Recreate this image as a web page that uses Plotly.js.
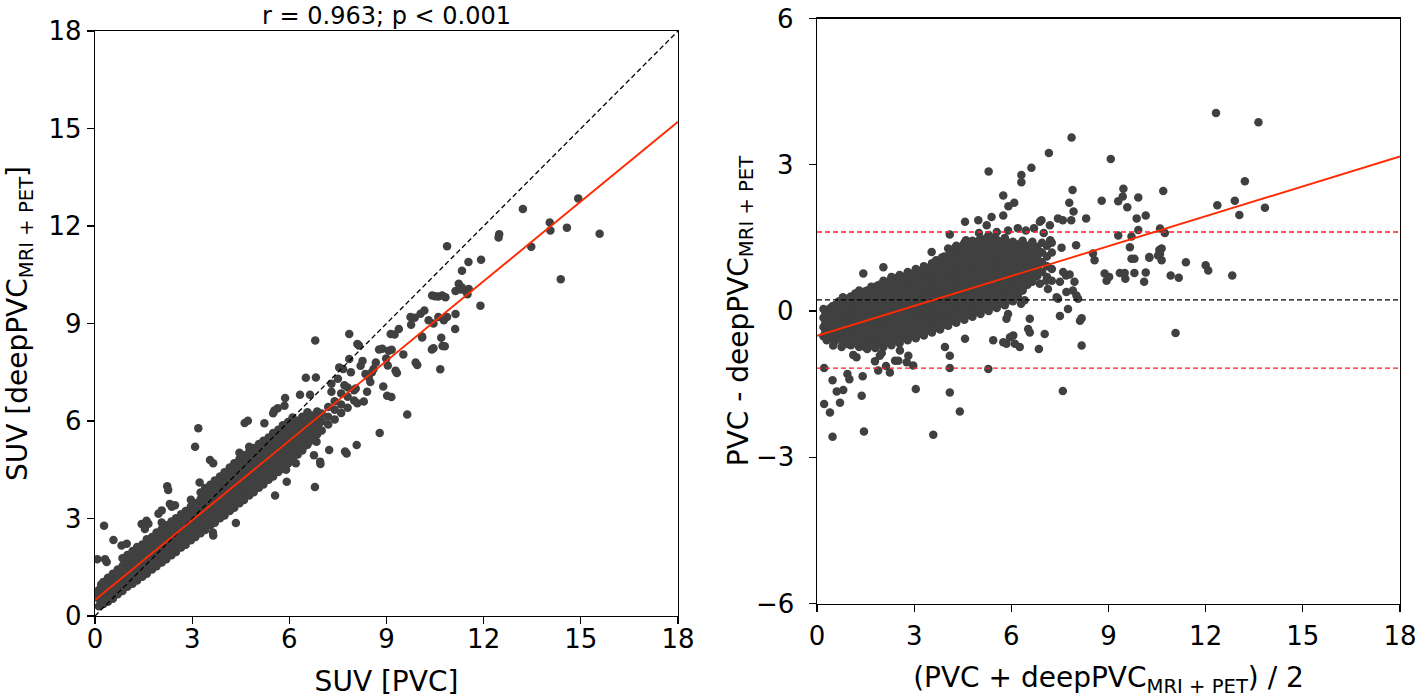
<!DOCTYPE html>
<html><head><meta charset="utf-8">
<script src="https://cdn.plot.ly/plotly-3.0.1.min.js"></script>
<style>html,body{margin:0;padding:0;background:#fff}#chart{width:1415px;height:698px}</style>
</head><body><div id="chart"></div>
<script>
// ---------- Left panel: SUV [PVC] vs SUV [deepPVC MRI+PET] ----------
// dense band, read column by column (x value, list of y values)
const corrColX = [0.12,0.26,0.4,0.55,0.7,0.85,1.0,1.16,1.3,1.46,1.6,1.76,1.9,2.06,2.2,2.36,2.5,2.66,2.8,2.96,3.1,3.26,3.4,3.56,3.7,3.86,4.0,4.16,4.3,4.46,4.6,4.76,4.9,5.06,5.2,5.36,5.5,5.66,5.8,5.96,6.1,6.26,6.4,6.56,6.7,6.86,7.0,7.2,7.4,7.6,7.8,8.0];
const corrColY = [
 [0.3,0.52,0.8],[0.37,0.6,0.84,1.05],[0.44,0.7,0.93,1.18],[0.53,0.79,1.03,1.3],[0.67,0.9,1.16,1.43],
 [0.77,1.03,1.27,1.54,1.78],[0.9,1.11,1.39,1.63,1.88],[0.99,1.24,1.47,1.73,2.0],[1.09,1.35,1.61,1.85,2.12],
 [1.21,1.44,1.71,1.96,2.2],[1.3,1.57,1.81,2.07,2.36],[1.43,1.67,1.93,2.19,2.43],[1.53,1.79,2.05,2.29,2.57],
 [1.65,1.89,2.16,2.41,2.67,2.88],[1.75,2.03,2.27,2.53,2.79],[1.87,2.11,2.39,2.63,2.91],[1.97,2.25,2.49,2.77,3.01],
 [2.11,2.35,2.63,2.87,3.13],[2.19,2.47,2.71,2.99,3.23],[2.33,2.57,2.85,3.09,3.37,3.58],[2.43,2.71,2.95,3.23,3.47],
 [2.55,2.79,3.07,3.35,3.59,3.8],[2.65,2.93,3.19,3.47,3.71,3.94],[2.79,3.03,3.31,3.57,3.85,4.04],[2.87,3.17,3.41,3.71,3.95,4.17],
 [3.01,3.27,3.55,3.81,4.09,4.29],[3.09,3.39,3.65,3.95,4.19,4.42],[3.23,3.49,3.79,4.05,4.35,4.57],[3.33,3.63,3.89,4.19,4.45,4.7],
 [3.47,3.73,4.03,4.29,4.59,4.83,5.02],[3.57,3.87,4.13,4.43,4.69,4.95],[3.71,3.97,4.27,4.53,4.83,5.05,5.21],[3.81,4.11,4.37,4.67,4.93,5.17],
 [3.95,4.21,4.51,4.77,5.07,5.29],[4.05,4.35,4.61,4.91,5.15,5.39],[4.19,4.45,4.75,5.01,5.29,5.49],[4.29,4.59,4.85,5.15,5.39,5.63],
 [4.43,4.69,4.99,5.25,5.53,5.73],[4.53,4.83,5.09,5.39,5.63,5.87],[4.69,4.95,5.25,5.49,5.77,5.97],[4.81,5.11,5.35,5.63,5.87,6.11],
 [4.97,5.23,5.51,5.75,6.01],[5.09,5.39,5.63,5.91,6.13],[5.27,5.51,5.79,6.01,6.27],[5.41,5.69,5.91,6.17],[5.59,5.83,6.07,6.29],
 [5.71,5.99,6.23],[5.89,6.13,6.43],[6.05,6.35,6.61],[6.25,6.51,6.85],[6.41,6.75,7.03],[6.63,6.95]
];
// second pass of the same band (points lying between the first pass)
const corrColX2 = [0.19,0.33,0.47,0.62,0.77,0.92,1.08,1.23,1.38,1.53,1.68,1.83,1.98,2.13,2.28,2.43,2.58,2.73,2.88,3.03,3.18,3.33,3.48,3.63,3.78,3.93,4.08,4.23,4.38,4.53,4.68,4.83,4.98,5.13,5.28,5.43,5.58,5.73,5.88,6.03,6.18,6.33,6.48,6.63,6.78,6.93];
const corrColY2 = [
 [0.41,0.66],[0.48,0.72,0.95],[0.57,0.82,1.06],[0.66,0.91,1.17],[0.78,1.03,1.29],[0.9,1.15,1.41,1.66],
 [1.0,1.25,1.51,1.76],[1.12,1.36,1.6,1.86],[1.22,1.48,1.73,1.99],[1.33,1.58,1.83,2.09],[1.44,1.69,1.94,2.21],
 [1.55,1.8,2.06,2.31],[1.66,1.92,2.17,2.43],[1.78,2.03,2.29,2.54,2.77],[1.89,2.15,2.4,2.66],[1.99,2.25,2.51,2.77],
 [2.11,2.37,2.63,2.89],[2.23,2.49,2.75,3.0],[2.33,2.59,2.85,3.11],[2.45,2.71,2.97,3.23,3.47],[2.57,2.83,3.09,3.35],
 [2.67,2.93,3.21,3.47,3.7],[2.79,3.06,3.33,3.59,3.83],[2.91,3.17,3.44,3.71,3.95],[3.02,3.29,3.56,3.83,4.06],
 [3.14,3.41,3.68,3.95,4.19],[3.24,3.52,3.8,4.07,4.31],[3.36,3.64,3.92,4.2,4.46],[3.48,3.76,4.04,4.32,4.58],
 [3.6,3.88,4.16,4.44,4.71,4.93],[3.72,4.0,4.28,4.56,4.83],[3.84,4.12,4.4,4.68,4.95,5.13],[3.96,4.24,4.52,4.8,5.06],
 [4.08,4.36,4.64,4.92,5.18],[4.2,4.48,4.76,5.04,5.28],[4.32,4.6,4.88,5.16,5.4],[4.44,4.72,5.0,5.28,5.52],
 [4.56,4.84,5.12,5.4,5.64],[4.68,4.96,5.24,5.52,5.76],[4.82,5.1,5.38,5.64,5.88],[4.96,5.24,5.5,5.76,6.0],
 [5.1,5.37,5.63,5.88],[5.24,5.51,5.77,6.02],[5.4,5.66,5.9,6.14],[5.56,5.8,6.04],[5.7,5.94,6.16]
];
// scattered points outside the dense band
const corrOutX = [0.07,0.31,0.36,0.28,0.57,0.82,0.98,0.19,0.07,1.08,1.44,1.59,1.65,1.54,1.96,2.06,2.31,2.37,2.47,2.23,2.26,3.19,3.09,3.23,3.55,3.65,3.64,3.65,4.35,4.62,4.72,5.23,5.5,5.54,5.64,5.87,5.85,6.33,6.64,6.8,6.51,6.82,7.54,7.85,7.85,8.1,8.15,7.66,8.26,8.5,8.55,8.67,8.45,8.77,8.87,9.07,9.28,9.13,9.38,9.16,9.25,8.9,9.02,9.15,9.32,8.99,9.04,9.52,9.95,9.64,8.79,8.08,7.72,7.77,7.23,6.96,6.76,6.95,6.79,5.92,5.56,6.28,6.4,6.62,6.84,6.5,5.9,6.2,9.74,9.87,9.76,10.1,10.05,10.17,10.3,10.45,10.6,10.87,10.41,10.5,10.6,10.72,10.82,10.69,10.73,10.45,10.66,10.4,10.8,9.9,10.1,11.13,11.12,10.77,11.23,11.33,11.13,11.3,11.45,11.5,11.54,11.9,11.33,11.53,11.92,10.87,12.48,12.46,13.21,13.47,14.04,14.06,14.57,14.92,15.58,14.38,7.3,7.5,7.9,8.2,8.35,8.6,7.3,7.7,8.05,8.4,8.3,8.1];
const corrOutY = [1.75,1.75,1.66,2.78,2.34,2.17,2.22,0.97,0.7,1.86,2.83,2.93,2.84,2.68,3.15,3.25,3.45,3.36,3.41,3.99,3.88,5.78,5.21,4.11,4.8,4.7,2.57,2.48,2.86,5.94,6.01,5.93,6.24,6.32,6.39,6.71,6.47,6.81,6.81,8.48,7.33,7.34,7.65,7.91,8.68,8.37,8.32,7.6,7.85,7.2,7.5,7.8,7.35,8.2,8.22,8.16,7.55,8.68,8.83,8.19,8.66,7.06,6.78,6.74,7.48,7.92,7.71,8.05,7.72,6.2,5.63,5.26,5.06,5.0,5.11,4.68,4.95,4.75,3.97,4.13,3.71,5.2,5.3,5.39,5.36,5.55,4.5,4.7,9.2,9.18,8.96,8.57,9.3,9.4,9.1,9.0,9.2,9.2,9.86,9.84,9.83,9.86,9.81,8.56,8.31,8.24,7.59,8.2,8.3,7.8,8.6,9.29,8.83,9.1,10.22,10.11,10.0,10.05,10.0,9.9,10.06,9.55,10.62,10.89,10.96,11.38,11.75,11.65,12.52,11.36,12.11,11.86,11.95,12.85,11.76,10.36,7.15,7.3,7.5,7.7,7.45,7.6,6.9,7.1,7.0,6.9,6.6,6.55];
const identityLine = [0, 18];
const corrFitY = [0.49, 15.21];
const corrTitle = 'r = 0.963; p < 0.001';

// ---------- Right panel: Bland-Altman ----------
const baColX = [0.2,0.3,0.42,0.55,0.68,0.8,0.92,1.05,1.18,1.3,1.42,1.55,1.68,1.8,1.93,2.05,2.18,2.3,2.43,2.55,2.68,2.8,2.93,3.05,3.18,3.3,3.43,3.55,3.68,3.8,3.93,4.05,4.18,4.3,4.43,4.55,4.68,4.8,4.93,5.05,5.18,5.3,5.43,5.55,5.68,5.8,5.93,6.05,6.2,6.35,6.5,6.65,6.8,6.95,7.1,7.25];
const baColY = [
 [-0.52,-0.33,-0.14,0.04],[-0.6,-0.42,-0.22,-0.05],[-0.55,-0.35,-0.16,0.06],[-0.62,-0.44,-0.25,-0.05,0.12],
 [-0.54,-0.34,-0.14,0.06,0.2],[-0.66,-0.46,-0.26,-0.06,0.12,0.28],[-0.58,-0.38,-0.18,0.02,0.2],[-0.7,-0.5,-0.3,-0.1,0.1,0.3],
 [-0.62,-0.42,-0.22,-0.02,0.18,0.36],[-0.74,-0.54,-0.34,-0.14,0.06,0.26,0.42],[-0.66,-0.46,-0.26,-0.06,0.14,0.34],
 [-0.78,-0.58,-0.38,-0.18,0.02,0.22,0.42],[-0.7,-0.5,-0.3,-0.1,0.1,0.3,0.5],[-0.76,-0.56,-0.36,-0.16,0.04,0.24,0.44],
 [-0.68,-0.48,-0.28,-0.08,0.12,0.32,0.54],[-0.74,-0.54,-0.34,-0.14,0.06,0.26,0.46,0.62],[-0.64,-0.44,-0.24,-0.04,0.16,0.36,0.56],
 [-0.7,-0.5,-0.3,-0.1,0.1,0.3,0.5,0.68],[-0.6,-0.4,-0.2,0.0,0.2,0.4,0.6],[-0.66,-0.46,-0.26,-0.06,0.14,0.34,0.54,0.74],
 [-0.56,-0.36,-0.16,0.04,0.24,0.44,0.64],[-0.6,-0.4,-0.2,0.0,0.2,0.4,0.6,0.8],[-0.5,-0.3,-0.1,0.1,0.3,0.5,0.7],
 [-0.56,-0.36,-0.16,0.04,0.24,0.44,0.64,0.86],[-0.46,-0.26,-0.06,0.14,0.34,0.54,0.74],[-0.5,-0.3,-0.1,0.1,0.3,0.5,0.7,0.92],
 [-0.4,-0.2,0.0,0.2,0.4,0.6,0.8],[-0.44,-0.24,-0.04,0.16,0.36,0.56,0.76,0.98],[-0.34,-0.14,0.06,0.26,0.46,0.66,0.86,1.04],
 [-0.38,-0.18,0.02,0.22,0.42,0.62,0.82,1.02],[-0.28,-0.08,0.12,0.32,0.52,0.72,0.92,1.12],[-0.3,-0.1,0.1,0.3,0.5,0.7,0.9,1.1,1.28],
 [-0.2,0.0,0.2,0.4,0.6,0.8,1.0,1.2],[-0.24,-0.04,0.16,0.36,0.56,0.76,0.96,1.16,1.34],[-0.14,0.06,0.26,0.46,0.66,0.86,1.06,1.26],
 [-0.18,0.02,0.22,0.42,0.62,0.82,1.02,1.22,1.4],[-0.08,0.12,0.32,0.52,0.72,0.92,1.12,1.32],[-0.12,0.08,0.28,0.48,0.68,0.88,1.08,1.28,1.44],
 [-0.02,0.18,0.38,0.58,0.78,0.98,1.18,1.38],[-0.06,0.14,0.34,0.54,0.74,0.94,1.14,1.34,1.48],[0.04,0.24,0.44,0.64,0.84,1.04,1.24,1.44],
 [0.0,0.2,0.4,0.6,0.8,1.0,1.2,1.4,1.56],[0.1,0.3,0.5,0.7,0.9,1.1,1.3,1.5],[0.06,0.26,0.46,0.66,0.86,1.06,1.26,1.46],
 [0.16,0.36,0.56,0.76,0.96,1.16,1.36],[0.12,0.32,0.52,0.72,0.92,1.12,1.32,1.5],[0.22,0.42,0.62,0.82,1.02,1.22],
 [0.2,0.4,0.6,0.8,1.0,1.2,1.42],[0.3,0.5,0.7,0.9,1.1,1.3],[0.42,0.62,0.82,1.02,1.22,1.44],[0.54,0.74,0.94,1.14,1.34],
 [0.6,0.8,1.0,1.2,1.42],[0.72,0.92,1.12,1.32],[0.8,1.0,1.2,1.4],[0.7,0.92,1.12,1.34],[0.62,0.86,1.2,1.4]
];
const baColX2 = [0.26,0.36,0.48,0.61,0.74,0.86,0.98,1.11,1.24,1.36,1.48,1.61,1.74,1.86,1.99,2.11,2.24,2.36,2.49,2.61,2.74,2.86,2.99,3.11,3.24,3.36,3.49,3.61,3.74,3.86,3.99,4.11,4.24,4.36,4.49,4.61,4.74,4.86,4.99,5.11,5.24,5.36,5.49,5.61,5.74,5.86,5.99,6.11,6.26,6.41,6.56,6.71,6.86];
const baColY2 = [
 [-0.42,-0.23,-0.04],[-0.51,-0.32,-0.13,0.03],[-0.45,-0.25,-0.06,0.1],[-0.53,-0.34,-0.15,0.05],[-0.44,-0.24,-0.04,0.14],
 [-0.56,-0.36,-0.16,0.04,0.2],[-0.48,-0.28,-0.08,0.12,0.26],[-0.6,-0.4,-0.2,0.0,0.2],[-0.52,-0.32,-0.12,0.08,0.28],
 [-0.64,-0.44,-0.24,-0.04,0.16,0.34],[-0.56,-0.36,-0.16,0.04,0.24,0.4],[-0.68,-0.48,-0.28,-0.08,0.12,0.32],
 [-0.6,-0.4,-0.2,0.0,0.2,0.4],[-0.66,-0.46,-0.26,-0.06,0.14,0.34,0.52],[-0.58,-0.38,-0.18,0.02,0.22,0.42],
 [-0.64,-0.44,-0.24,-0.04,0.16,0.36,0.54],[-0.54,-0.34,-0.14,0.06,0.26,0.46,0.62],[-0.6,-0.4,-0.2,0.0,0.2,0.4,0.58],
 [-0.5,-0.3,-0.1,0.1,0.3,0.5,0.68],[-0.56,-0.36,-0.16,0.04,0.24,0.44,0.64],[-0.46,-0.26,-0.06,0.14,0.34,0.54,0.72],
 [-0.5,-0.3,-0.1,0.1,0.3,0.5,0.7],[-0.4,-0.2,0.0,0.2,0.4,0.6,0.78],[-0.46,-0.26,-0.06,0.14,0.34,0.54,0.74],
 [-0.36,-0.16,0.04,0.24,0.44,0.64,0.84],[-0.4,-0.2,0.0,0.2,0.4,0.6,0.8],[-0.3,-0.1,0.1,0.3,0.5,0.7,0.9],
 [-0.34,-0.14,0.06,0.26,0.46,0.66,0.86],[-0.24,-0.04,0.16,0.36,0.56,0.76,0.96],[-0.28,-0.08,0.12,0.32,0.52,0.72,0.92,1.1],
 [-0.18,0.02,0.22,0.42,0.62,0.82,1.02],[-0.2,0.0,0.2,0.4,0.6,0.8,1.0,1.2],[-0.1,0.1,0.3,0.5,0.7,0.9,1.1,1.28],
 [-0.14,0.06,0.26,0.46,0.66,0.86,1.06,1.24],[-0.04,0.16,0.36,0.56,0.76,0.96,1.16,1.34],[-0.08,0.12,0.32,0.52,0.72,0.92,1.12,1.3],
 [0.02,0.22,0.42,0.62,0.82,1.02,1.22,1.4],[-0.02,0.18,0.38,0.58,0.78,0.98,1.18,1.36],[0.08,0.28,0.48,0.68,0.88,1.08,1.28,1.44],
 [0.04,0.24,0.44,0.64,0.84,1.04,1.24,1.4],[0.14,0.34,0.54,0.74,0.94,1.14,1.34,1.5],[0.1,0.3,0.5,0.7,0.9,1.1,1.3,1.48],
 [0.2,0.4,0.6,0.8,1.0,1.2,1.4],[0.16,0.36,0.56,0.76,0.96,1.16,1.36],[0.26,0.46,0.66,0.86,1.06,1.26,1.44],
 [0.22,0.42,0.62,0.82,1.02,1.22,1.42],[0.32,0.52,0.72,0.92,1.12,1.32],[0.3,0.5,0.7,0.9,1.1,1.3],
 [0.4,0.6,0.8,1.0,1.2,1.38],[0.52,0.72,0.92,1.12,1.32],[0.64,0.84,1.04,1.24],[0.7,0.9,1.1,1.3],[0.82,1.02,1.22]
];
const baOutX = [12.32,13.63,7.86,7.16,9.07,5.3,6.62,6.31,6.31,13.21,5.75,5.91,6.09,7.89,7.79,7.92,8.79,9.46,9.44,9.3,9.58,9.92,10.69,12.36,12.9,13.04,13.83,9.87,10.15,9.3,9.71,9.92,10.59,10.74,9.66,9.71,10.26,10.59,10.64,10.64,10.53,11.39,12.0,12.08,12.82,10.92,11.17,8.94,9.02,8.88,9.35,9.5,9.52,9.8,10.1,10.15,11.07,8.31,8.0,8.52,8.57,9.8,10.26,10.57,6.88,6.93,7.19,7.44,7.59,7.85,4.57,4.98,5.24,5.39,5.75,7.69,7.95,7.9,7.75,7.5,8.12,8.17,7.44,8.06,7.5,7.6,7.8,7.08,7.13,6.77,6.88,6.3,6.41,6.57,6.52,6.57,7.03,6.26,6.11,5.85,5.75,5.44,6.85,5.96,6.06,5.85,5.9,5.29,4.57,8.17,7.59,7.4,7.7,8.01,7.55,7.2,7.0,6.7,0.22,0.48,0.61,0.81,0.71,0.22,0.4,0.48,1.45,1.38,1.41,0.94,1.0,1.12,1.22,1.48,1.79,2.13,2.25,1.89,2.0,1.94,2.41,2.51,2.77,2.82,2.97,3.05,4.1,4.1,4.1,4.41,3.59,3.95,0.3,0.5,0.76,0.97,1.07,2.56,2.05,2.3,1.43,3.0,3.54,4.1,4.6,5.0,5.55,5.9,6.2,6.45];
const baOutY = [4.06,3.87,3.56,3.24,3.12,2.86,2.94,2.79,2.64,2.66,2.37,2.15,2.22,2.48,2.22,2.04,2.26,2.51,2.35,2.25,2.13,2.33,2.46,2.17,2.26,1.97,2.12,1.9,1.96,1.55,1.53,1.66,1.69,1.6,1.31,1.07,1.09,1.17,1.28,1.04,1.14,1.0,0.94,0.83,0.73,0.73,0.68,0.62,0.7,0.77,0.78,0.78,0.66,0.78,0.6,0.79,-0.45,1.9,1.35,1.18,1.04,1.07,1.11,1.25,1.83,1.86,1.76,1.9,1.86,1.86,1.83,1.86,1.76,1.93,1.96,0.73,0.6,0.42,0.04,-0.1,-0.2,-0.15,0.25,0.25,0.6,0.8,0.75,0.62,0.45,0.73,0.56,0.15,0.22,-0.16,-0.37,-0.44,-0.47,-0.74,-0.67,-0.67,-0.64,-0.6,-0.78,-0.54,-0.5,-0.16,-0.06,-1.19,-0.57,-0.71,-1.64,0.28,0.39,0.32,1.3,1.45,1.6,1.7,-1.17,-1.42,-1.65,-1.62,-1.88,-1.91,-2.08,-2.58,-2.47,-1.74,-1.34,-1.29,-1.4,-0.9,-0.95,-0.74,-1.03,-1.13,-1.26,-1.22,-0.86,-0.92,-1.02,-1.02,-1.05,-0.92,-1.12,-1.6,-1.67,-0.92,-1.17,-2.06,-2.54,-0.74,-0.54,-0.71,-0.74,-0.68,-0.64,-0.81,0.9,0.7,0.77,0.49,1.21,1.57,1.45,1.6,1.62,1.65,1.7,1.65,1.6];
const baFitY = [-0.51, 3.17];
const baMeanDiff = 0.23;
const baUpperLoA = 1.62;
const baLowerLoA = -1.17;
const suvTicks = [0,3,6,9,12,15,18];
const diffTicks = [-6,-3,0,3,6];
const diffTickText = ['\u22126','\u22123','0','3','6'];

// ---------- build traces ----------
function flatten(colX, colY){
  const xs=[], ys=[];
  colX.forEach((x,i)=>colY[i].forEach(y=>{xs.push(x); ys.push(y);}));
  return [xs, ys];
}
const [cbx, cby] = flatten(corrColX, corrColY);
const [cbx2, cby2] = flatten(corrColX2, corrColY2);
const [bbx, bby] = flatten(baColX, baColY);
const [bbx2, bby2] = flatten(baColX2, baColY2);
const dot = {color:'#404040', size:8.5, line:{width:0}};
const FONT = 'DejaVu Sans, Liberation Sans, sans-serif';

const traces = [
  {type:'scatter', mode:'markers', x:cbx.concat(cbx2, corrOutX), y:cby.concat(cby2, corrOutY), marker:dot, xaxis:'x', yaxis:'y'},
  {type:'scatter', mode:'lines', x:identityLine, y:identityLine, line:{color:'#000', width:1.3, dash:'5px,3px'}, xaxis:'x', yaxis:'y'},
  {type:'scatter', mode:'lines', x:identityLine, y:corrFitY, line:{color:'#ff2a00', width:1.9}, xaxis:'x', yaxis:'y'},
  {type:'scatter', mode:'markers', x:bbx.concat(bbx2, baOutX), y:bby.concat(bby2, baOutY), marker:dot, xaxis:'x2', yaxis:'y2'},
  {type:'scatter', mode:'lines', x:identityLine, y:[baMeanDiff, baMeanDiff], line:{color:'#000', width:1.3, dash:'5px,3px'}, xaxis:'x2', yaxis:'y2'},
  {type:'scatter', mode:'lines', x:identityLine, y:[baUpperLoA, baUpperLoA], line:{color:'#ff2020', width:1.3, dash:'5px,3px'}, xaxis:'x2', yaxis:'y2'},
  {type:'scatter', mode:'lines', x:identityLine, y:[baLowerLoA, baLowerLoA], line:{color:'#ff2020', width:1.3, dash:'5px,3px'}, xaxis:'x2', yaxis:'y2'},
  {type:'scatter', mode:'lines', x:identityLine, y:baFitY, line:{color:'#ff2a00', width:1.9}, xaxis:'x2', yaxis:'y2'}
];

const W=1415, H=698;
function axisBase(){
  return {ticks:'outside', ticklen:7, tickwidth:1.2, tickcolor:'#000', showline:true, linecolor:'#000', linewidth:1.2,
          mirror:true, showgrid:false, zeroline:false, tickfont:{family:FONT, size:26, color:'#000'}, fixedrange:true};
}
// right-panel y tick labels sit further from the axis than Plotly's default; drawn as annotations at the tick values
const diffLabelAnn = diffTicks.map((v,i)=>({text:diffTickText[i], xref:'paper', yref:'y2', x:795/W, y:v,
  xanchor:'right', yanchor:'middle', showarrow:false, borderpad:0, font:{family:FONT, size:26, color:'#000'}}));

const layout = {
  width:W, height:H, margin:{l:0,r:0,t:0,b:0}, showlegend:false,
  paper_bgcolor:'#fff', plot_bgcolor:'#fff', font:{family:FONT, color:'#000'},
  xaxis: Object.assign(axisBase(), {domain:[95/W, 678/W], range:[0,18], tickvals:suvTicks, anchor:'y', ticklabelstandoff:-7,
    title:{text:'SUV [PVC]', font:{family:FONT, size:28, color:'#000'}, standoff:22}}),
  yaxis: Object.assign(axisBase(), {domain:[(H-616)/H, (H-31)/H], range:[0,18], tickvals:suvTicks, anchor:'x',
    title:{text:'SUV [deepPVC<sub>MRI + PET</sub>]', font:{family:FONT, size:28, color:'#000'}, standoff:12}}),
  xaxis2: Object.assign(axisBase(), {domain:[817/W, 1400/W], range:[0,18], tickvals:suvTicks, anchor:'y2', ticklabelstandoff:2,
    ticklabeloverflow:'allow',
    title:{text:'(PVC + deepPVC<sub>MRI + PET</sub>) / 2', font:{family:FONT, size:28, color:'#000'}, standoff:21}}),
  yaxis2: Object.assign(axisBase(), {domain:[(H-603.5)/H, (H-18.5)/H], range:[-6,6], tickvals:diffTicks,
    showticklabels:false, anchor:'x2',
    title:{text:'PVC - deepPVC<sub>MRI + PET</sub>', font:{family:FONT, size:28, color:'#000'}, standoff:52}}),
  annotations:[{text:corrTitle, xref:'paper', yref:'paper', x:386.5/W, y:1, xanchor:'center', yanchor:'top',
    showarrow:false, font:{family:FONT, size:24, color:'#000'}}].concat(diffLabelAnn)
};
Plotly.newPlot('chart', traces, layout, {displayModeBar:false, staticPlot:true});
</script></body></html>
